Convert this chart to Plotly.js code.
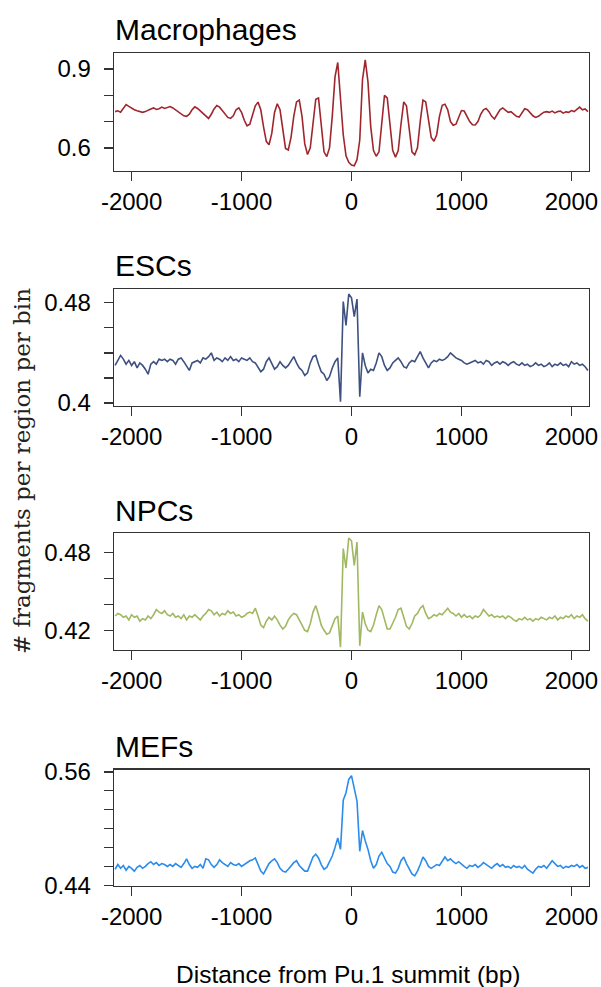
<!DOCTYPE html>
<html>
<head>
<meta charset="utf-8">
<script src="https://cdn.plot.ly/plotly-3.0.1.min.js"></script>
<style>
  html, body { margin: 0; padding: 0; background: #ffffff; }
  #chart { width: 601px; height: 987px; }
</style>
</head>
<body>
<div id="chart"></div>
<script>
// Bin centres (bp from the Pu.1 summit), 25 bp bins
const binCentres = [
  -2150,-2125,-2100,-2075,-2050,-2025,-2000,-1975,-1950,-1925,
  -1900,-1875,-1850,-1825,-1800,-1775,-1750,-1725,-1700,-1675,
  -1650,-1625,-1600,-1575,-1550,-1525,-1500,-1475,-1450,-1425,
  -1400,-1375,-1350,-1325,-1300,-1275,-1250,-1225,-1200,-1175,
  -1150,-1125,-1100,-1075,-1050,-1025,-1000,-975,-950,-925,
  -900,-875,-850,-825,-800,-775,-750,-725,-700,-675,
  -650,-625,-600,-575,-550,-525,-500,-475,-450,-425,
  -400,-375,-350,-325,-300,-275,-250,-225,-200,-175,
  -150,-125,-100,-75,-50,-25,0,25,50,75,
  100,125,150,175,200,225,250,275,300,325,
  350,375,400,425,450,475,500,525,550,575,
  600,625,650,675,700,725,750,775,800,825,
  850,875,900,925,950,975,1000,1025,1050,1075,
  1100,1125,1150,1175,1200,1225,1250,1275,1300,1325,
  1350,1375,1400,1425,1450,1475,1500,1525,1550,1575,
  1600,1625,1650,1675,1700,1725,1750,1775,1800,1825,
  1850,1875,1900,1925,1950,1975,2000,2025,2050,2075,
  2100,2125,2150
];

// Fragments per region per bin, one profile per cell type
const macrophages = [
  0.738,0.741,0.736,0.752,0.765,0.758,0.750,0.745,0.741,0.737,
  0.735,0.738,0.744,0.748,0.752,0.746,0.749,0.755,0.750,0.753,
  0.757,0.752,0.744,0.738,0.730,0.722,0.720,0.728,0.745,0.756,
  0.750,0.740,0.732,0.722,0.712,0.728,0.748,0.761,0.755,0.742,
  0.728,0.716,0.712,0.722,0.745,0.752,0.735,0.705,0.684,0.690,
  0.725,0.760,0.774,0.745,0.680,0.625,0.612,0.655,0.735,0.768,
  0.745,0.660,0.598,0.592,0.640,0.720,0.775,0.782,0.720,0.615,
  0.575,0.600,0.700,0.785,0.790,0.680,0.585,0.567,0.600,0.720,
  0.870,0.925,0.800,0.650,0.570,0.545,0.535,0.532,0.555,0.630,
  0.860,0.935,0.850,0.680,0.590,0.568,0.585,0.680,0.800,0.790,
  0.680,0.590,0.565,0.590,0.690,0.775,0.760,0.660,0.585,0.574,
  0.600,0.700,0.782,0.775,0.700,0.640,0.625,0.650,0.720,0.762,
  0.766,0.745,0.700,0.686,0.690,0.720,0.742,0.740,0.720,0.700,
  0.688,0.687,0.700,0.728,0.745,0.750,0.738,0.720,0.710,0.725,
  0.745,0.752,0.745,0.735,0.738,0.730,0.720,0.717,0.735,0.749,
  0.745,0.733,0.722,0.716,0.720,0.728,0.736,0.738,0.735,0.740,
  0.733,0.738,0.740,0.732,0.737,0.735,0.742,0.738,0.748,0.755,
  0.745,0.748,0.738
];

const escs = [
  0.430,0.434,0.438,0.435,0.431,0.434,0.430,0.433,0.428,0.432,
  0.430,0.427,0.423,0.431,0.433,0.431,0.435,0.434,0.435,0.433,
  0.435,0.434,0.431,0.435,0.436,0.433,0.430,0.426,0.432,0.433,
  0.434,0.432,0.436,0.435,0.437,0.440,0.434,0.436,0.435,0.433,
  0.436,0.434,0.437,0.434,0.435,0.433,0.436,0.435,0.434,0.436,
  0.433,0.432,0.428,0.425,0.427,0.433,0.436,0.431,0.427,0.429,
  0.433,0.430,0.428,0.430,0.434,0.437,0.432,0.428,0.426,0.422,
  0.424,0.432,0.437,0.438,0.431,0.425,0.423,0.418,0.421,0.428,
  0.433,0.436,0.401,0.481,0.462,0.487,0.484,0.469,0.483,0.405,
  0.440,0.430,0.424,0.427,0.426,0.432,0.440,0.437,0.430,0.426,
  0.428,0.432,0.434,0.436,0.433,0.429,0.428,0.432,0.434,0.433,
  0.437,0.441,0.436,0.432,0.428,0.432,0.434,0.433,0.435,0.434,
  0.435,0.437,0.440,0.438,0.436,0.435,0.434,0.432,0.431,0.432,
  0.433,0.434,0.432,0.433,0.431,0.434,0.433,0.430,0.432,0.433,
  0.431,0.433,0.432,0.430,0.432,0.433,0.431,0.430,0.432,0.430,
  0.431,0.429,0.430,0.432,0.430,0.431,0.429,0.430,0.432,0.429,
  0.431,0.430,0.432,0.430,0.431,0.429,0.433,0.431,0.432,0.430,
  0.431,0.429,0.426
];

const npcs = [
  0.431,0.433,0.432,0.430,0.431,0.428,0.432,0.430,0.431,0.427,
  0.429,0.428,0.431,0.429,0.432,0.436,0.434,0.433,0.435,0.432,
  0.431,0.433,0.430,0.431,0.429,0.432,0.428,0.431,0.430,0.432,
  0.430,0.428,0.431,0.433,0.436,0.435,0.432,0.434,0.431,0.433,
  0.432,0.435,0.433,0.434,0.431,0.432,0.430,0.431,0.433,0.434,
  0.433,0.437,0.431,0.424,0.422,0.427,0.430,0.428,0.431,0.428,
  0.424,0.421,0.423,0.428,0.431,0.433,0.432,0.428,0.424,0.420,
  0.419,0.425,0.434,0.439,0.432,0.424,0.420,0.417,0.418,0.424,
  0.429,0.431,0.407,0.483,0.468,0.491,0.489,0.470,0.488,0.408,
  0.434,0.425,0.420,0.419,0.424,0.432,0.439,0.436,0.428,0.421,
  0.421,0.425,0.430,0.436,0.437,0.430,0.423,0.421,0.425,0.431,
  0.433,0.437,0.439,0.433,0.429,0.430,0.432,0.431,0.433,0.432,
  0.435,0.437,0.434,0.433,0.431,0.433,0.430,0.432,0.430,0.431,
  0.429,0.431,0.430,0.432,0.436,0.433,0.431,0.432,0.430,0.431,
  0.430,0.431,0.429,0.431,0.430,0.428,0.427,0.429,0.428,0.430,
  0.428,0.429,0.427,0.429,0.428,0.430,0.429,0.428,0.430,0.429,
  0.431,0.428,0.430,0.429,0.431,0.430,0.432,0.429,0.431,0.430,
  0.432,0.429,0.427
];

const mefs = [
  0.457,0.462,0.458,0.461,0.456,0.460,0.458,0.455,0.459,0.461,
  0.458,0.460,0.463,0.465,0.462,0.464,0.461,0.463,0.462,0.460,
  0.462,0.460,0.463,0.461,0.459,0.463,0.468,0.462,0.458,0.460,
  0.459,0.462,0.458,0.468,0.467,0.462,0.459,0.462,0.467,0.464,
  0.462,0.460,0.464,0.462,0.461,0.463,0.460,0.462,0.464,0.466,
  0.467,0.469,0.462,0.455,0.452,0.457,0.463,0.466,0.468,0.464,
  0.458,0.455,0.454,0.457,0.461,0.464,0.466,0.461,0.458,0.455,
  0.455,0.462,0.470,0.473,0.469,0.462,0.457,0.459,0.465,0.471,
  0.480,0.490,0.478,0.530,0.538,0.552,0.556,0.541,0.529,0.476,
  0.498,0.487,0.478,0.466,0.458,0.462,0.471,0.475,0.468,0.463,
  0.460,0.454,0.453,0.458,0.466,0.470,0.463,0.457,0.452,0.450,
  0.455,0.462,0.470,0.466,0.460,0.458,0.460,0.462,0.461,0.466,
  0.470,0.466,0.468,0.465,0.463,0.465,0.462,0.460,0.458,0.461,
  0.460,0.462,0.459,0.461,0.464,0.462,0.460,0.458,0.461,0.463,
  0.460,0.462,0.459,0.460,0.458,0.461,0.459,0.460,0.458,0.461,
  0.457,0.455,0.453,0.457,0.460,0.459,0.461,0.458,0.462,0.466,
  0.463,0.460,0.461,0.458,0.460,0.459,0.461,0.460,0.462,0.459,
  0.461,0.458,0.459
];

// Panel names, line colours and axis ticks
const panelNames = ['Macrophages', 'ESCs', 'NPCs', 'MEFs'];
const lineColours = ['#a0262e', '#3d5080', '#a1b862', '#2b8ceb'];
const xTickVals = [-2000, -1000, 0, 1000, 2000];
const xTickText = ['-2000', '-1000', '0', '1000', '2000'];
const yTickVals = [
  [0.6, 0.7, 0.8, 0.9],
  [0.40, 0.42, 0.44, 0.46, 0.48],
  [0.42, 0.44, 0.46, 0.48],
  [0.44, 0.46, 0.48, 0.50, 0.52, 0.54, 0.56]
];
const yTickText = [
  ['0.6', '', '', '0.9'],
  ['0.4', '', '', '', '0.48'],
  ['0.42', '', '', '0.48'],
  ['0.44', '', '', '', '', '', '0.56']
];
const yRanges = [
  [0.512, 0.961],
  [0.398, 0.491],
  [0.4048, 0.495],
  [0.4393, 0.5625]
];
const xTitle = 'Distance from Pu.1 summit (bp)';
const yTitle = '# fragments per region per bin';

// Layout geometry (pixels in a 601 x 987 page)
const W = 601, H = 987;
const boxLeft = 114, boxRight = 589;
const boxTops = [53, 289, 533, 769.5];
const boxBottoms = [171, 405.5, 650, 886];
const sans = 'Liberation Sans, Arial, Helvetica, sans-serif';
const axisColour = '#333333';

const series = [macrophages, escs, npcs, mefs];
const traces = [];
const layout = {
  width: W, height: H,
  margin: { l: 0, r: 0, t: 0, b: 0 },
  paper_bgcolor: '#ffffff',
  plot_bgcolor: '#ffffff',
  showlegend: false,
  font: { family: sans, color: '#000000' },
  annotations: []
};

series.forEach((vals, i) => {
  const n = i + 1;
  const xa = n === 1 ? 'x' : 'x' + n;
  const ya = n === 1 ? 'y' : 'y' + n;
  traces.push({
    type: 'scatter', mode: 'lines',
    x: binCentres, y: vals,
    xaxis: xa, yaxis: ya,
    line: { color: lineColours[i], width: 1.6 },
    hoverinfo: 'x+y'
  });
  layout['xaxis' + (n === 1 ? '' : n)] = {
    domain: [boxLeft / W, boxRight / W],
    anchor: ya,
    range: [-2160, 2160],
    tickmode: 'array', tickvals: xTickVals, ticktext: xTickText,
    ticks: 'outside', ticklen: 9, tickwidth: 1.3, tickcolor: axisColour,
    ticklabelstandoff: 0,
    showline: true, mirror: true, linecolor: axisColour, linewidth: 1.3,
    showgrid: false, zeroline: false,
    tickfont: { family: sans, size: 24, color: '#000000' }
  };
  layout['yaxis' + (n === 1 ? '' : n)] = {
    domain: [1 - boxBottoms[i] / H, 1 - boxTops[i] / H],
    anchor: xa,
    range: yRanges[i],
    tickmode: 'array', tickvals: yTickVals[i], ticktext: yTickText[i],
    ticks: 'outside', ticklen: 9, tickwidth: 1.3, tickcolor: axisColour,
    ticklabelstandoff: 8,
    showline: true, mirror: true, linecolor: axisColour, linewidth: 1.3,
    showgrid: false, zeroline: false,
    tickfont: { family: sans, size: 24, color: '#000000' }
  };
  layout.annotations.push({
    text: panelNames[i],
    xref: 'paper', yref: 'paper',
    x: (boxLeft - 1) / W, xanchor: 'left',
    y: 1 - (boxTops[i] - 23) / H, yanchor: 'middle',
    showarrow: false,
    font: { family: sans, size: 30, color: '#000000' }
  });
});

layout.annotations.push({
  text: xTitle,
  xref: 'paper', yref: 'paper',
  x: (boxLeft + boxRight) / 2 / W - 4 / W, xanchor: 'center',
  y: 1 - 974 / H, yanchor: 'middle',
  showarrow: false,
  font: { family: sans, size: 24.5, color: '#000000' }
});
layout.annotations.push({
  text: yTitle,
  xref: 'paper', yref: 'paper',
  x: 22 / W, xanchor: 'center',
  y: 1 - 471 / H, yanchor: 'middle',
  textangle: -90,
  showarrow: false,
  font: { family: 'DejaVu Serif, serif', size: 23, color: '#222222' }
});

Plotly.newPlot('chart', traces, layout, { staticPlot: true, displayModeBar: false });
</script>
</body>
</html>
